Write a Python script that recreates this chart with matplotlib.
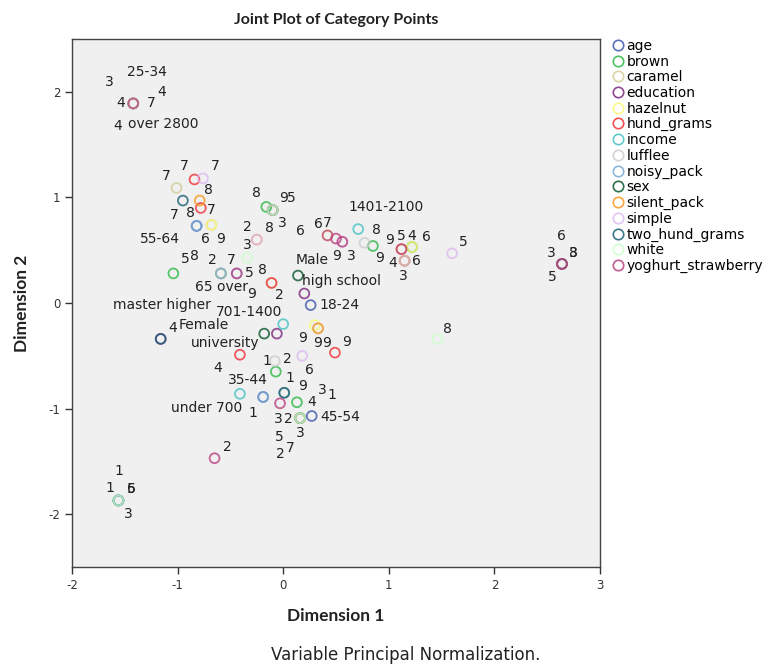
import matplotlib
matplotlib.use("Agg")
import matplotlib.pyplot as plt
from matplotlib.lines import Line2D

plt.rcParams['font.family'] = 'DejaVu Sans'
plt.rcParams['axes.unicode_minus'] = False

# ---- category quantifications (Dimension 1, Dimension 2) per variable ----
age_cats = ["18-24", "25-34", "35-44", "45-54", "55-64", "65 over"]
age_dim1 = [0.26, -1.42, -0.19, 0.27, -0.82, -0.59]
age_dim2 = [-0.02, 1.89, -0.89, -1.07, 0.73, 0.28]

brown_cats = ["1", "3", "4", "5", "6", "7", "8", "9"]
brown_dim1 = [-0.07, -1.56, 0.13, -1.04, 1.22, 0.16, -0.16, 0.85]
brown_dim2 = [-0.65, -1.87, -0.94, 0.28, 0.53, -1.09, 0.91, 0.54]

caramel_cats = ["1", "2", "3", "7", "8", "9"]
caramel_dim1 = [-1.56, 0.16, 1.15, -1.01, -0.11, -0.68]
caramel_dim2 = [-1.87, -1.09, 0.40, 1.09, 0.19, 0.74]

education_cats = ["high school", "master higher", "university"]
education_dim1 = [0.20, -1.16, -0.06]
education_dim2 = [0.09, -0.34, -0.29]

hazelnut_cats = ["1", "3", "4", "5", "6", "7", "8", "9"]
hazelnut_dim1 = [0.01, -0.10, 1.22, 0.16, 0.42, -0.68, -0.59, 0.30]
hazelnut_dim2 = [-0.85, 0.88, 0.53, -1.09, 0.64, 0.74, 0.28, -0.21]

hund_grams_cats = ["2", "3", "4", "5", "6", "7", "8", "9"]
hund_grams_dim1 = [-0.11, 2.64, -0.41, -0.10, 1.15, -0.84, -0.78, 0.49]
hund_grams_dim2 = [0.19, 0.37, -0.49, 0.88, 0.40, 1.17, 0.90, -0.47]

income_cats = ["under 700", "701-1400", "1401-2100", "over 2800"]
income_dim1 = [-0.41, 0.00, 0.71, -1.42]
income_dim2 = [-0.86, -0.20, 0.70, 1.89]

lufflee_cats = ["2", "3", "4", "8", "9"]
lufflee_dim1 = [-0.08, -1.42, 1.15, 0.77, 0.33]
lufflee_dim2 = [-0.55, 1.89, 0.40, 0.57, -0.24]

noisy_pack_cats = ["1", "2", "3", "4", "5", "6", "9"]
noisy_pack_dim1 = [-0.19, -0.59, 0.01, -1.42, -1.56, -0.82, -0.44]
noisy_pack_dim2 = [-0.89, 0.28, -0.85, 1.89, -1.87, 0.73, 0.28]

sex_cats = ["Female", "Male"]
sex_dim1 = [-0.18, 0.14]
sex_dim2 = [-0.29, 0.26]

silent_pack_cats = ["2", "3", "5", "6", "7", "8", "9"]
silent_pack_dim1 = [0.16, -0.25, 1.12, 2.64, -1.42, -0.79, 0.33]
silent_pack_dim2 = [-1.09, 0.60, 0.51, 0.37, 1.89, 0.97, -0.24]

simple_cats = ["2", "3", "5", "6", "7", "9"]
simple_dim1 = [-0.25, 2.64, 1.60, 0.18, -0.76, 0.56]
simple_dim2 = [0.60, 0.37, 0.47, -0.50, 1.18, 0.58]

two_hund_grams_cats = ["3", "4", "5", "6", "7", "8", "9"]
two_hund_grams_dim1 = [0.16, -1.16, 2.64, -1.56, -0.95, -0.10, 0.01]
two_hund_grams_dim2 = [-1.09, -0.34, 0.37, -1.87, 0.97, 0.88, -0.85]

white_cats = ["1", "3", "4", "7", "8", "9"]
white_dim1 = [-1.56, 0.16, -1.42, -0.34, 1.46, -0.10]
white_dim2 = [-1.87, -1.09, 1.89, 0.43, -0.34, 0.88]

yoghurt_strawberry_cats = ["1", "2", "3", "4", "5", "6", "7", "8", "9"]
yoghurt_strawberry_dim1 = [-0.03, -0.65, 0.56, -1.42, -0.44, 0.42, 0.50, 2.64, 1.12]
yoghurt_strawberry_dim2 = [-0.95, -1.47, 0.58, 1.89, 0.28, 0.64, 0.61, 0.37, 0.51]

# ---- label placement (pixel offsets of each category label from its point) ----
label_offsets = {
    "age": [(29, 0), (14, 31), (-15, 17), (29, -1), (-37, -13), (1, -14)],
    "brown": [(-9, 11), (10, -14), (15, 0), (12, 14), (14, 10), (-10, -30), (-10, 14), (7, -12)],
    "caramel": [(-9, 12), (-12, -1), (-1, -15), (-10, 12), (-9, 13), (9, -14)],
    "education": [(37, 12), (1, 34), (-52, -9)],
    "hazelnut": [(48, -2), (10, -13), (0, 11), (-21, -19), (-27, 4), (0, 15), (-26, 17), (-12, -13)],
    "hund_grams": [(8, -12), (-11, 11), (-22, -13), (19, 12), (12, 0), (-10, 13), (-10, -5), (12, 11)],
    "income": [(-33, -14), (-34, 12), (28, 22), (30, -21)],
    "lufflee": [(13, 2), (-24, 21), (-12, -2), (12, 13), (9, -15)],
    "noisy_pack": [(-10, -16), (-9, 13), (38, 3), (28, 11), (13, 11), (9, -13), (15, -21)],
    "sex": [(-60, 9), (14, 16)],
    "silent_pack": [(-20, -36), (-9, -5), (0, 13), (-1, 28), (18, 0), (9, 11), (0, -15)],
    "simple": [(-9, 13), (11, 11), (11, 11), (7, -14), (12, 12), (-6, -14)],
    "two_hund_grams": [(-22, -1), (12, 11), (-10, -13), (13, 11), (-9, -14), (-3, -18), (18, 7)],
    "white": [(0, 29), (0, -15), (-13, 0), (-16, -2), (10, 10), (11, 12)],
    "yoghurt_strawberry": [(10, 25), (13, 11), (9, -14), (-16, -23), (13, 0), (-9, 11), (-9, 16), (11, 11), (-12, 9)],
}

series = [
    ("age", "#3E58AC", age_cats, age_dim1, age_dim2),
    ("brown", "#2EB848", brown_cats, brown_dim1, brown_dim2),
    ("caramel", "#D3CE97", caramel_cats, caramel_dim1, caramel_dim2),
    ("education", "#7C287D", education_cats, education_dim1, education_dim2),
    ("hazelnut", "#FBF873", hazelnut_cats, hazelnut_dim1, hazelnut_dim2),
    ("hund_grams", "#EF3338", hund_grams_cats, hund_grams_dim1, hund_grams_dim2),
    ("income", "#48C2C5", income_cats, income_dim1, income_dim2),
    ("lufflee", "#CCCCCC", lufflee_cats, lufflee_dim1, lufflee_dim2),
    ("noisy_pack", "#7AAAD5", noisy_pack_cats, noisy_pack_dim1, noisy_pack_dim2),
    ("sex", "#0A562C", sex_cats, sex_dim1, sex_dim2),
    ("silent_pack", "#F8981D", silent_pack_cats, silent_pack_dim1, silent_pack_dim2),
    ("simple", "#DDBAF1", simple_cats, simple_dim1, simple_dim2),
    ("two_hund_grams", "#1A5F76", two_hund_grams_cats, two_hund_grams_dim1, two_hund_grams_dim2),
    ("white", "#CCFFCC", white_cats, white_dim1, white_dim2),
    ("yoghurt_strawberry", "#BB3F7F", yoghurt_strawberry_cats, yoghurt_strawberry_dim1, yoghurt_strawberry_dim2),
]

W, H = 776, 665
fig = plt.figure(figsize=(W / 100, H / 100), dpi=100)
ax = fig.add_axes([72 / W, 1 - 567 / H, 528 / W, 528 / H])
ax.set_facecolor("#F0F0F0")

for name, color, cats, d1, d2 in series:
    ax.scatter(d1, d2, s=50, facecolors="none", edgecolors=color,
               linewidths=1.3, alpha=0.8, zorder=2)

for name, color, cats, d1, d2 in series:
    for cat, x, y, (dx, dy) in zip(cats, d1, d2, label_offsets[name]):
        ax.annotate(cat, (x, y), xytext=(dx, dy), textcoords="offset pixels",
                    ha="center", va="center", fontsize=10, color="#222222",
                    zorder=3)

ax.set_xlim(-2, 3)
ax.set_ylim(-2.5, 2.5)
ax.set_xticks([-2, -1, 0, 1, 2, 3])
ax.set_yticks([-2, -1, 0, 1, 2])
ax.tick_params(direction="out", length=5, width=1, color="#333333",
               labelsize=8.5, labelcolor="#333333")
for sp in ax.spines.values():
    sp.set_color("#444444")
    sp.set_linewidth(1)

ax.set_xlabel("Dimension 1", fontsize=12.5, family="Lato", fontweight="bold",
              color="#222222")
ax.xaxis.set_label_coords(0.5, -0.078)
ax.set_ylabel("Dimension 2", fontsize=12.5, family="Lato", fontweight="bold",
              color="#222222")
ax.yaxis.set_label_coords(-0.08, 0.5)

fig.text(336 / W, 1 - 20 / H, "Joint Plot of Category Points", ha="center",
         va="center", fontsize=11.5, family="Lato", fontweight="bold",
         color="#222222")
fig.text(406 / W, 1 - 655 / H, "Variable Principal Normalization.",
         ha="center", va="center", fontsize=12, color="#222222")

handles = [Line2D([], [], linestyle="none", marker="o", markersize=7.5,
                  markerfacecolor="none", markeredgecolor=c, markeredgewidth=1.2,
                  alpha=0.85)
           for _, c, *_ in series]
labels = [n for n, *_ in series]
fig.legend(handles, labels, loc="upper left", bbox_to_anchor=(612 / W, 1 - 39 / H),
           frameon=False, fontsize=10, handlelength=0.8, handletextpad=0.25,
           labelspacing=0.12, borderaxespad=0, borderpad=0)

fig.savefig("out.png", dpi=100)
